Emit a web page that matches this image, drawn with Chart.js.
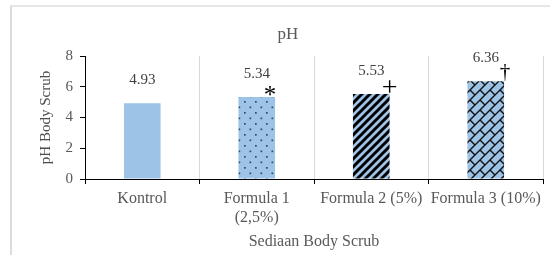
<!DOCTYPE html>
<html>
<head>
<meta charset="utf-8">
<script src="https://cdn.jsdelivr.net/npm/chart.js@4"></script>
<style>
  html, body { margin: 0; padding: 0; background: #fff; overflow: hidden; }
  #wrap { position: relative; width: 550px; height: 255px; }
  #frame {
    position: absolute; left: 10px; top: 5px; width: 560px; height: 270px;
    border-left: 2px solid #dcdcdc; border-top: 2px solid #e6e6e6;
    pointer-events: none;
  }
</style>
</head>
<body>
<div id="wrap">
  <canvas id="phChart"></canvas>
  <div id="frame"></div>
</div>
<script>
const categories = ['Kontrol', ['Formula 1', '(2,5%)'], 'Formula 2 (5%)', 'Formula 3 (10%)'];
const phValues = [4.93, 5.34, 5.53, 6.36];
const markers = ['', '*', '+', '\u2020'];
const yTicks = [0, 2, 4, 6, 8];

const serif = "'Liberation Serif', 'Times New Roman', serif";
const blue = '#9dc3e6';

function makePattern(kind) {
    const s = kind === 'dots' ? 11 : (kind === 'stripes' ? 8 : 10);
    const c = document.createElement('canvas');
    c.width = s; c.height = s;
    const g = c.getContext('2d');
    g.fillStyle = blue;
    g.fillRect(0, 0, s, s);
    if (kind === 'dots') {
        g.fillStyle = '#2f4a6e';
        g.fillRect(2, 2, 1.7, 1.7);
        g.fillRect(7.5, 7.5, 1.7, 1.7);
    } else if (kind === 'stripes') {
        g.strokeStyle = '#000';
        g.lineWidth = 3;
        g.beginPath();
        g.moveTo(-2, s + 2); g.lineTo(s + 2, -2);
        g.moveTo(-2, 2); g.lineTo(2, -2);
        g.moveTo(s - 2, s + 2); g.lineTo(s + 2, s - 2);
        g.stroke();
    } else {
        g.strokeStyle = '#111';
        g.lineWidth = 1.4;
        g.beginPath();
        g.moveTo(-1, s + 1); g.lineTo(s + 1, -1);
        g.moveTo(-1, 1); g.lineTo(1, -1);
        g.moveTo(s - 1, s + 1); g.lineTo(s + 1, s - 1);
        g.moveTo(0, 0); g.lineTo(s / 2, s / 2);
        g.stroke();
    }
    return document.getElementById('phChart').getContext('2d').createPattern(c, 'repeat');
}

const barFills = [blue, makePattern('dots'), makePattern('stripes'), makePattern('brick')];

// label above each bar + the significance mark on its top right corner
const markStyle = {
    '*': { size: 25, dx: -5, dy: 6 },
    '+': { size: 28, dx: 0, dy: 2 },
    '\u2020': { size: 21, dx: 1, dy: -3 }
};

const barExtras = {
    id: 'barExtras',
    afterDatasetsDraw(chart) {
        const ctx = chart.ctx;
        const meta = chart.getDatasetMeta(0);
        meta.data.forEach((bar, i) => {
            const { x, y, width } = bar.getProps(['x', 'y', 'width'], true);
            ctx.save();
            ctx.font = '15px ' + serif;
            ctx.fillStyle = '#404040';
            ctx.textAlign = 'center';
            ctx.textBaseline = 'middle';
            ctx.fillText(phValues[i].toFixed(2), x, y - 23);
            const m = markers[i];
            if (m) {
                const st = markStyle[m];
                ctx.font = st.size + 'px ' + serif;
                ctx.fillStyle = '#000';
                ctx.textBaseline = 'alphabetic';
                ctx.fillText(m, x + width / 2 + st.dx, y + st.dy);
            }
            ctx.restore();
        });
    }
};

new Chart(document.getElementById('phChart'), {
    type: 'bar',
    data: {
        labels: categories,
        datasets: [{
            label: 'pH',
            data: phValues,
            backgroundColor: barFills,
            borderWidth: 0,
            categoryPercentage: 1,
            barPercentage: 0.32
        }]
    },
    options: {
        responsive: true,
        maintainAspectRatio: false,
        animation: false,
        layout: { padding: { left: 33, right: 7, top: 0, bottom: 0 } },
        plugins: {
            legend: { display: false },
            tooltip: { enabled: false },
            title: {
                display: true,
                text: 'pH',
                color: '#595959',
                font: { family: serif, size: 17, weight: 'normal' },
                padding: { top: 24, bottom: 11.6 }
            }
        },
        scales: {
            x: {
                border: { color: '#000', width: 1 },
                grid: { color: '#d9d9d9', tickColor: '#000', tickLength: 5, offset: true },
                ticks: {
                    color: '#595959',
                    font: { family: serif, size: 16 },
                    padding: 5,
                    maxRotation: 0,
                    autoSkip: false
                },
                title: {
                    display: true,
                    text: 'Sediaan Body Scrub',
                    color: '#595959',
                    font: { family: serif, size: 16 },
                    padding: { top: 4, bottom: 4 }
                },
                afterFit(scale) { scale.height = 76; }
            },
            y: {
                min: 0,
                max: 8,
                afterBuildTicks(scale) { scale.ticks = yTicks.map(v => ({ value: v })); },
                border: { color: '#000', width: 1 },
                grid: { drawOnChartArea: false, tickColor: '#000', tickLength: 5 },
                ticks: {
                    color: '#595959',
                    font: { family: serif, size: 15 },
                    padding: 7
                },
                title: {
                    display: true,
                    text: 'pH Body Scrub',
                    color: '#4d4d4d',
                    font: { family: serif, size: 15 },
                    padding: { top: 4, bottom: 4 }
                },
                afterFit(scale) { scale.width = 52; }
            }
        }
    },
    plugins: [barExtras]
});
</script>
</body>
</html>
